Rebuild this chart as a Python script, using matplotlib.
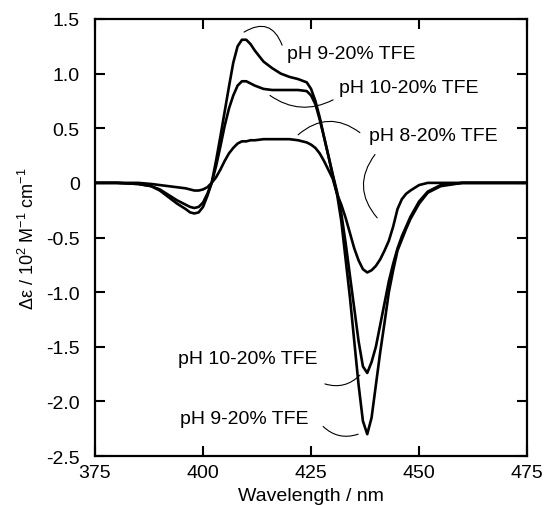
import matplotlib
matplotlib.use('Agg')
import matplotlib.pyplot as plt

plt.rcParams['font.family'] = ['Liberation Sans', 'DejaVu Sans']
plt.rcParams['mathtext.fontset'] = 'custom'
plt.rcParams['mathtext.rm'] = 'Liberation Sans'
plt.rcParams['mathtext.it'] = 'Liberation Sans:italic'
plt.rcParams['axes.unicode_minus'] = False

# wavelength grid (nm) and CD values
wavelength = [375, 380, 385, 388, 390, 392, 394, 396, 397, 398, 399, 400, 401, 402,
              403, 404, 405, 406, 407, 408, 409, 410, 411, 412, 414, 416, 418, 420,
              422, 424, 425, 426, 427, 428, 429, 430, 431, 432, 433, 434, 435, 436,
              437, 438, 439, 440, 441, 442, 443, 444, 445, 446, 447, 448, 450, 452,
              455, 460, 465, 470, 475]

ph9 = [0, 0, -0.01, -0.03, -0.07, -0.13, -0.19, -0.24, -0.27, -0.28, -0.27, -0.22, -0.12, 0.0,
       0.2, 0.42, 0.65, 0.88, 1.1, 1.25, 1.31, 1.31, 1.27, 1.21, 1.11, 1.05, 1.0, 0.97,
       0.95, 0.92, 0.86, 0.75, 0.6, 0.42, 0.25, 0.07, -0.1, -0.35, -0.7, -1.05, -1.45, -1.85,
       -2.18, -2.3, -2.15, -1.85, -1.55, -1.28, -1.0, -0.8, -0.62, -0.52, -0.42, -0.33, -0.19, -0.09,
       -0.03, 0, 0, 0, 0]

ph10 = [0, 0, -0.01, -0.03, -0.06, -0.11, -0.16, -0.2, -0.22, -0.23, -0.22, -0.18, -0.1, 0.0,
        0.15, 0.33, 0.52, 0.68, 0.8, 0.89, 0.93, 0.93, 0.91, 0.89, 0.86, 0.85, 0.85, 0.85,
        0.85, 0.84, 0.8, 0.72, 0.58, 0.42, 0.25, 0.08, -0.08, -0.28, -0.55, -0.85, -1.15, -1.45,
        -1.68, -1.74, -1.64, -1.5, -1.3, -1.1, -0.9, -0.74, -0.6, -0.49, -0.4, -0.31, -0.17, -0.08,
        -0.02, 0, 0, 0, 0]

ph8 = [0, 0, 0, -0.01, -0.02, -0.03, -0.04, -0.05, -0.06, -0.07, -0.07, -0.06, -0.04, 0.0,
       0.05, 0.12, 0.2, 0.27, 0.32, 0.36, 0.38, 0.38, 0.39, 0.39, 0.4, 0.4, 0.4, 0.4,
       0.39, 0.37, 0.35, 0.32, 0.27, 0.2, 0.12, 0.04, -0.1, -0.2, -0.32, -0.46, -0.6, -0.71,
       -0.79, -0.82, -0.8, -0.76, -0.7, -0.62, -0.53, -0.4, -0.24, -0.15, -0.1, -0.07, -0.02, 0,
       0, 0, 0, 0, 0]

fig = plt.figure(figsize=(5.44, 5.06), dpi=100)
ax = fig.add_axes([0.1746, 0.0968, 0.7944, 0.8637])

for y in (ph9, ph10, ph8):
    ax.plot(wavelength, y, color='black', lw=1.9)

ax.set_xlim(375, 475)
ax.set_ylim(-2.5, 1.5)
ax.set_xticks([375, 400, 425, 450, 475])
ax.set_yticks([1.5, 1.0, 0.5, 0, -0.5, -1.0, -1.5, -2.0, -2.5])
ax.set_yticklabels(['1.5', '1.0', '0.5', '0', '-0.5', '-1.0', '-1.5', '-2.0', '-2.5'])
ax.tick_params(direction='in', length=7, width=1.5, top=True, right=True, labelsize=14)
ax.tick_params(axis='x', pad=6)
ax.tick_params(axis='y', pad=11)
for s in ax.spines.values():
    s.set_linewidth(1.6)

ax.set_xlabel('Wavelength / nm', fontsize=14, labelpad=4)
ax.set_ylabel('Δε / 10$^2$ M$^{-1}$ cm$^{-1}$', fontsize=13, labelpad=6)

# labels and leader lines
fs = 14
ax.text(419.4, 1.18, 'pH 9-20% TFE', fontsize=fs, va='center')
ax.text(431.5, 0.87, 'pH 10-20% TFE', fontsize=fs, va='center')
ax.text(438.3, 0.43, 'pH 8-20% TFE', fontsize=fs, va='center')
ax.text(394.3, -1.61, 'pH 10-20% TFE', fontsize=fs, va='center')
ax.text(394.7, -2.16, 'pH 9-20% TFE', fontsize=fs, va='center')

leaders = [
    ((409.5, 1.38), (418.3, 1.26), -0.6),
    ((415.5, 0.80), (430.1, 0.76), 0.3),
    ((422.0, 0.44), (436.3, 0.46), -0.4),
    ((439.8, 0.26), (440.3, -0.32), 0.4),
    ((428.2, -1.84), (436.3, -1.76), 0.3),
    ((427.8, -2.23), (435.9, -2.30), 0.3),
]
for a, b, rad in leaders:
    ax.annotate('', xy=b, xytext=a,
                arrowprops=dict(arrowstyle='-', lw=0.8, color='black',
                                connectionstyle='arc3,rad=%s' % rad,
                                shrinkA=0, shrinkB=0))

fig.savefig('out.png', dpi=100)
